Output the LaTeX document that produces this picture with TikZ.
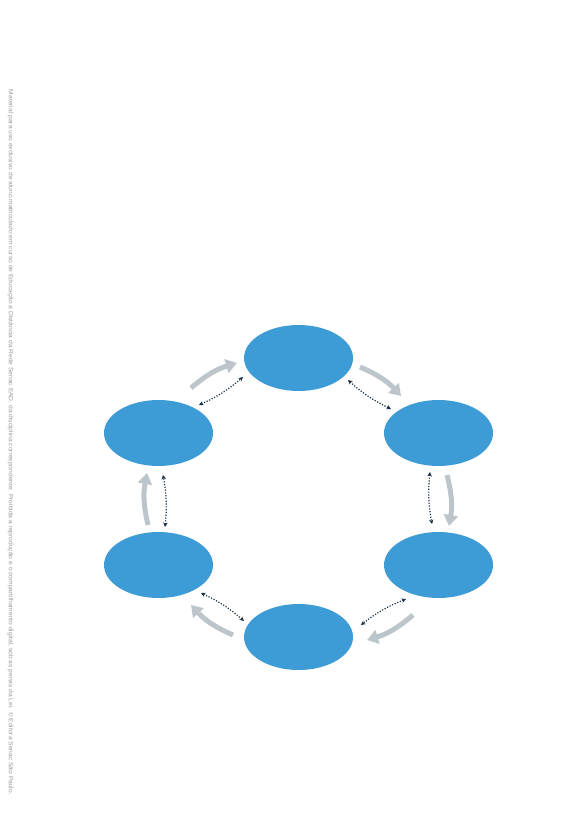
\documentclass[tikz,border=0pt]{standalone}
\usepackage{fontspec}
\setmainfont{Liberation Sans}
\usetikzlibrary{arrows.meta,shapes.geometric}
\definecolor{ellblue}{HTML}{3D9BD6}
\definecolor{cyclegray}{HTML}{BCC5C9}
\definecolor{dotnavy}{HTML}{1B3042}
\definecolor{notegray}{HTML}{9A9A9A}
\tikzset{
  stage/.style={ellipse, fill=ellblue, draw=none, minimum width=109pt, minimum height=66pt, inner sep=0pt},
  flow/.style={draw=cyclegray, line width=5pt, -{Triangle[length=11pt,width=14pt]}, bend left=12},
  link/.style={draw=dotnavy, line width=1.2pt, dash pattern=on 1.2pt off 1.6pt, {Stealth[length=4.5pt,width=4.5pt]}-{Stealth[length=4.5pt,width=4.5pt]}, bend right=8},
}
\begin{document}
\begin{tikzpicture}[x=1pt,y=-1pt]
\useasboundingbox (0,0) rectangle (579,832);
\node[stage] (top) at (298.5,358) {};
\node[stage] (ur) at (438.5,433) {};
\node[stage] (lr) at (438.5,565) {};
\node[stage] (bot) at (298.5,637) {};
\node[stage] (ll) at (158.5,565) {};
\node[stage] (ul) at (158.5,433) {};
% gray cycle arrow ends
\coordinate (f1s) at (191,388); \coordinate (f1e) at (237,363);
\coordinate (f2s) at (360,367); \coordinate (f2e) at (401,396);
\coordinate (f3s) at (447,475); \coordinate (f3e) at (449,526);
\coordinate (f4s) at (413,615); \coordinate (f4e) at (367,640);
\coordinate (f5s) at (233,635); \coordinate (f5e) at (191,605);
\coordinate (f6s) at (148,525); \coordinate (f6e) at (147,473);
\draw[flow] (f1s) to (f1e);
\draw[flow] (f2s) to (f2e);
\draw[flow] (f3s) to (f3e);
\draw[flow] (f4s) to (f4e);
\draw[flow] (f5s) to (f5e);
\draw[flow] (f6s) to (f6e);
% dotted links
\coordinate (d1s) at (199,405); \coordinate (d1e) at (243,377);
\coordinate (d2s) at (348,380); \coordinate (d2e) at (391,409);
\coordinate (d3s) at (430,472); \coordinate (d3e) at (432,524);
\coordinate (d4s) at (406,599); \coordinate (d4e) at (361,625);
\coordinate (d5s) at (244,621); \coordinate (d5e) at (201,593);
\coordinate (d6s) at (165,527); \coordinate (d6e) at (163,475);
\draw[link] (d1s) to (d1e);
\draw[link] (d2s) to (d2e);
\draw[link] (d3s) to (d3e);
\draw[link] (d4s) to (d4e);
\draw[link] (d5s) to (d5e);
\draw[link] (d6s) to (d6e);
\node[rotate=-90, text=notegray, inner sep=0pt, font=\fontsize{6.3}{7}\selectfont] (note) at (10.5,442.5) {\resizebox{705pt}{\height}{Material para uso exclusivo de aluno matriculado em curso de Educação a Distância da Rede Senac EAD, da disciplina correspondente. Proibida a reprodução e o compartilhamento digital, sob as penas da Lei. © Editora Senac São Paulo.}};
\end{tikzpicture}
\end{document}
